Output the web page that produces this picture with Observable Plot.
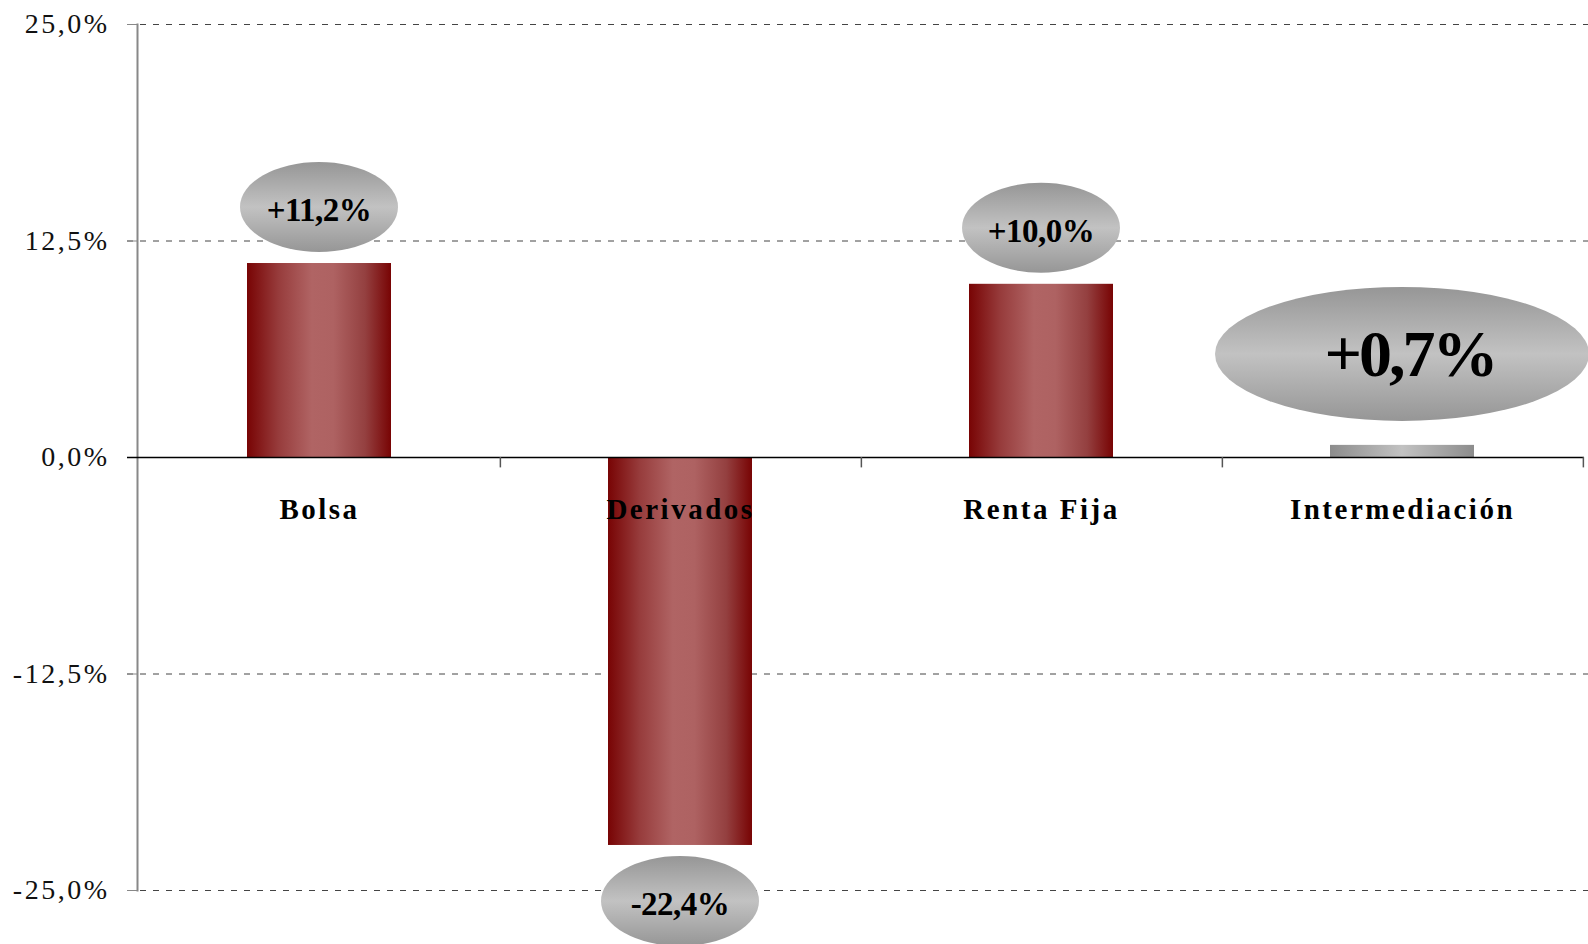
<!DOCTYPE html>
<html><head><meta charset="utf-8">
<script src="https://cdn.jsdelivr.net/npm/d3@7"></script>
<script src="https://cdn.jsdelivr.net/npm/@observablehq/plot@0.6"></script>
<style>
body{margin:0;background:#fff;}
#chart svg [aria-label="y-axis tick label"] text{letter-spacing:2.5px;}
#chart svg g[aria-label="text"] text{letter-spacing:2.5px;}
</style>
</head><body><div id="chart"></div>
<script>
const categories = ["Bolsa", "Derivados", "Renta Fija", "Intermediación"];
const values = [11.2, -22.4, 10.0, 0.7];
const valueLabels = ["+11,2%", "-22,4%", "+10,0%", "+0,7%"];
const highlighted = [false, false, false, true];
const yTicks = [-25, -12.5, 0, 12.5, 25];
const yTickLabels = ["-25,0%", "-12,5%", "0,0%", "12,5%", "25,0%"];

const data = categories.map((c, i) => ({cat: c, value: values[i], label: valueLabels[i], hl: highlighted[i]}));
const tickLabelMap = new Map(yTicks.map((t, i) => [t, yTickLabels[i]]));

const W = 1588, H = 944;
const mL = 137, mR = 4, mT = 24, mB = 54;
const step = (W - mL - mR) / categories.length;
const serif = "'Liberation Serif', 'Times New Roman', serif";

function bubbles(index, scales, vals, dims) {
  let bw = 0;
  if (scales.x && typeof scales.x.bandwidth === "function") bw = scales.x.bandwidth();
  else if (scales.scales && scales.scales.x && scales.scales.x.bandwidth) bw = scales.scales.x.bandwidth;
  const g = d3.create("svg:g").attr("aria-label", "bubbles");
  for (const i of index) {
    const d = data[i];
    const big = d.hl;
    const rx = big ? 187 : 79, ry = big ? 67 : 45;
    const off = big ? 91 : 56;
    const cx = vals.x[i] + bw / 2;
    const cy = d.value >= 0 ? vals.y[i] - off : vals.y[i] + off;
    g.append("ellipse").attr("cx", cx).attr("cy", cy).attr("rx", rx).attr("ry", ry)
      .attr("fill", "url(#gBubble)");
    g.append("text").attr("x", cx + (big ? 8 : 0)).attr("y", cy + (big ? 22 : 14))
      .attr("text-anchor", "middle")
      .attr("font-family", serif).attr("font-weight", "bold")
      .attr("font-size", big ? 66 : 33).attr("letter-spacing", big ? "-3px" : "-0.5px")
      .attr("fill", "#000").text(d.label);
  }
  return g.node();
}

const svg = Plot.plot({
  width: W, height: H,
  marginLeft: mL, marginRight: mR, marginTop: mT, marginBottom: mB,
  style: {fontFamily: serif, background: "#fff", overflow: "visible"},
  x: {type: "band", domain: categories, paddingInner: 0.6, paddingOuter: 0.3, axis: null},
  y: {domain: [-25, 25], axis: null},
  marks: [
    Plot.ruleY(yTicks.filter(t => t !== 0), {stroke: "#444", strokeWidth: 1, strokeDasharray: "6,7", insetLeft: -10, insetRight: -4}),
    Plot.axisY(yTicks, {label: null, tickSize: 10, tickPadding: 18, stroke: "#888", fill: "#111", fontSize: 28, fontFamily: serif, tickFormat: d => tickLabelMap.get(d)}),
    Plot.frame({anchor: "left", stroke: "#888", strokeWidth: 2}),
    Plot.barY(data.filter(d => !d.hl), {x: "cat", y: "value", fill: "url(#gRed)"}),
    Plot.barY(data.filter(d => d.hl), {x: "cat", y: "value", fill: "url(#gGray)"}),
    Plot.ruleY([0], {stroke: "#000", strokeWidth: 1.5, insetLeft: -10}),
    Plot.ruleX(categories, {x: d => d, dx: step / 2, y1: 0, y2: -0.6, stroke: "#555", strokeWidth: 1.5}),
    Plot.text(categories, {x: d => d, y: () => 0, dy: 61, lineAnchor: "bottom", text: d => d,
      fontSize: 29, fontWeight: "bold", fontFamily: serif, fill: "#000"}),
    Plot.dot(data, {x: "cat", y: "value", render: bubbles})
  ]
});

const ns = "http://www.w3.org/2000/svg";
const defs = document.createElementNS(ns, "defs");
defs.innerHTML = `
<linearGradient id="gRed" x1="0" x2="1" y1="0" y2="0">
  <stop offset="0" stop-color="#780404"/>
  <stop offset="0.22" stop-color="#973c3c"/>
  <stop offset="0.45" stop-color="#b06464"/>
  <stop offset="0.6" stop-color="#ae6262"/>
  <stop offset="0.82" stop-color="#944040"/>
  <stop offset="1" stop-color="#780404"/>
</linearGradient>
<linearGradient id="gGray" x1="0" x2="1" y1="0" y2="0">
  <stop offset="0" stop-color="#8c8c8c"/>
  <stop offset="0.5" stop-color="#c2c2c2"/>
  <stop offset="1" stop-color="#8c8c8c"/>
</linearGradient>
<linearGradient id="gBubble" x1="0" x2="0" y1="0" y2="1">
  <stop offset="0" stop-color="#969696"/>
  <stop offset="0.5" stop-color="#c2c2c2"/>
  <stop offset="1" stop-color="#969696"/>
</linearGradient>`;
svg.insertBefore(defs, svg.firstChild);
document.getElementById("chart").appendChild(svg);
</script>
</body></html>
